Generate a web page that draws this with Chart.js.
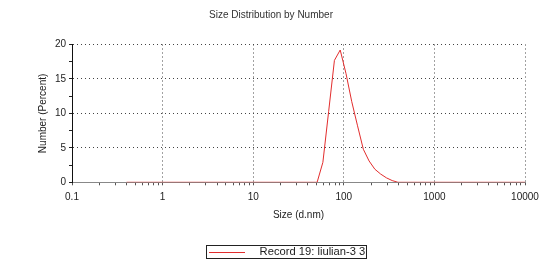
<!DOCTYPE html>
<html>
<head>
<meta charset="utf-8">
<script src="https://cdn.jsdelivr.net/npm/chart.js@4/dist/chart.umd.min.js"></script>
<style>
html,body{margin:0;padding:0;background:#fff;overflow:hidden}
#wrap{width:551px;height:266px;position:relative}
</style>
</head>
<body>
<div id="wrap"><canvas id="c" width="551" height="266"></canvas></div>
<script>
// ---- data ----
const chartTitle = 'Size Distribution by Number';
const xAxisTitle = 'Size (d.nm)';
const yAxisTitle = 'Number (Percent)';
const seriesLabel = 'Record 19: liulian-3 3';
const sizes = [0.4, 50.75, 58.77, 68.06, 78.82, 91.28, 105.7, 122.4, 141.8, 164.2, 190.1, 220.2, 255.0, 295.3, 342.0, 396.1, 10000];
const numberPct = [0, 0, 2.9, 10.3, 17.7, 19.2, 15.8, 11.7, 8.2, 4.8, 3.1, 1.9, 1.2, 0.65, 0.25, 0, 0];
const xDecades = [0.1, 1, 10, 100, 1000, 10000];
const xMinorFactors = [2, 3, 4, 5, 6, 7, 8, 9];
const yTickValues = [0, 2.5, 5, 7.5, 10, 12.5, 15, 17.5, 20];
const yLabelValues = [0, 5, 10, 15, 20];

// x tick positions: decades plus minor log ticks between them
const xTickValues = [];
xDecades.forEach((d, i) => {
  xTickValues.push(d);
  if (i < xDecades.length - 1) xMinorFactors.forEach(f => xTickValues.push(d * f));
});

Chart.defaults.font.family = "'Liberation Sans', Arial, sans-serif";
Chart.defaults.color = '#222';

const TRANSPARENT = 'rgba(0,0,0,0)';
const lineColor = 'rgb(226,45,45)';
const legendFontSize = 11.2;

const placeBoxes = {
  id: 'placeBoxes',
  afterLayout(chart) {
    const t = chart.titleBlock;
    if (t) {
      const w = t.right - t.left;
      t.left = 271 - w / 2;
      t.right = t.left + w;
    }
    const lg = chart.legend;
    if (lg) {
      const pad = lg.options.labels.padding;
      lg.left = 209 - pad;
      lg.right = lg.left + 240;
      lg.width = 240;
      lg.top = 251.5 - legendFontSize / 2 - pad;
      lg.bottom = lg.top + 40;
      lg.height = 40;
    }
  },
  afterDraw(chart) {
    const lg = chart.legend;
    if (!lg || !lg.legendHitBoxes || !lg.legendHitBoxes.length) return;
    const hb = lg.legendHitBoxes[0];
    const ctx = chart.ctx;
    const ds = chart.data.datasets[0];
    const pad = lg.options.labels.padding;
    const cy = lg.top + pad + legendFontSize / 2;
    const yl = Math.round(cy) + 0.5;
    ctx.save();
    ctx.strokeStyle = ds.borderColor;
    ctx.lineWidth = 1;
    ctx.beginPath();
    ctx.moveTo(hb.left, yl);
    ctx.lineTo(hb.left + 36, yl);
    ctx.stroke();
    ctx.strokeStyle = '#222';
    const x0 = Math.round(hb.left - 3) + 0.5;
    const x1 = Math.round(hb.left + hb.width + 1) + 0.5;
    const y0 = Math.round(cy - 6.5) + 0.5;
    const y1 = Math.round(cy + 6.5) + 0.5;
    ctx.strokeRect(x0, y0, x1 - x0, y1 - y0);
    ctx.restore();
  }
};

new Chart(document.getElementById('c'), {
  type: 'line',
  data: {
    datasets: [{
      label: seriesLabel,
      data: sizes.map((s, i) => ({ x: s, y: numberPct[i] })),
      borderColor: lineColor,
      backgroundColor: lineColor,
      borderWidth: 1,
      pointRadius: 0,
      tension: 0,
      fill: false
    }]
  },
  options: {
    responsive: false,
    animation: false,
    devicePixelRatio: 1,
    layout: { padding: { left: 0, right: 26, top: 0, bottom: 39.7 } },
    plugins: {
      title: {
        display: true,
        text: chartTitle,
        color: '#333',
        font: { size: 10, weight: 'normal' },
        padding: { top: 9.7, bottom: 22.8 }
      },
      legend: {
        display: true,
        position: 'chartArea',
        align: 'start',
        labels: {
          boxWidth: 45,
          boxHeight: 1,
          padding: 10,
          color: '#222',
          font: { size: legendFontSize },
          generateLabels(chart) {
            const items = Chart.defaults.plugins.legend.labels.generateLabels(chart);
            items.forEach(it => { it.fillStyle = TRANSPARENT; it.strokeStyle = TRANSPARENT; it.lineWidth = 0; });
            return items;
          }
        }
      },
      tooltip: { enabled: false }
    },
    scales: {
      x: {
        type: 'logarithmic',
        position: 'bottom',
        min: 0.1,
        max: 10000,
        afterBuildTicks(scale) { scale.ticks = xTickValues.map(v => ({ value: v })); },
        afterFit(scale) { scale.height = 44; },
        ticks: {
          autoSkip: false,
          maxRotation: 0,
          padding: 5.7,
          color: '#222',
          font: { size: 10 },
          callback(v) { return xDecades.includes(v) ? String(v) : ''; }
        },
        grid: {
          drawOnChartArea: true,
          drawTicks: true,
          tickLength: 3,
          color(ctx) { return ctx.tick && ctx.tick.value !== 0.1 && xDecades.includes(ctx.tick.value) ? '#444' : TRANSPARENT; },
          tickColor: '#555'
        },
        border: { display: true, color: '#888', width: 1, dash: [1, 3] },
        title: {
          display: true,
          text: xAxisTitle,
          color: '#222',
          font: { size: 10 },
          padding: { top: 0, bottom: 5.3 }
        }
      },
      y: {
        type: 'linear',
        min: 0,
        max: 20,
        afterBuildTicks(scale) { scale.ticks = yTickValues.map(v => ({ value: v })); },
        afterFit(scale) { scale.width = 72; },
        ticks: {
          autoSkip: false,
          padding: 3,
          color: '#222',
          font: { size: 10 },
          callback(v) { return yLabelValues.includes(v) ? String(v) : ''; }
        },
        grid: {
          drawOnChartArea: true,
          drawTicks: true,
          tickLength: 3,
          color(ctx) { return ctx.tick && ctx.tick.value > 0 && yLabelValues.includes(ctx.tick.value) ? '#444' : TRANSPARENT; },
          tickColor: '#222'
        },
        border: { display: true, color: '#111', width: 1, dash: [1, 3] },
        title: {
          display: true,
          text: yAxisTitle,
          color: '#222',
          font: { size: 10 },
          padding: { top: 37, bottom: 0 }
        }
      }
    }
  },
  plugins: [placeBoxes]
});
</script>
</body>
</html>
